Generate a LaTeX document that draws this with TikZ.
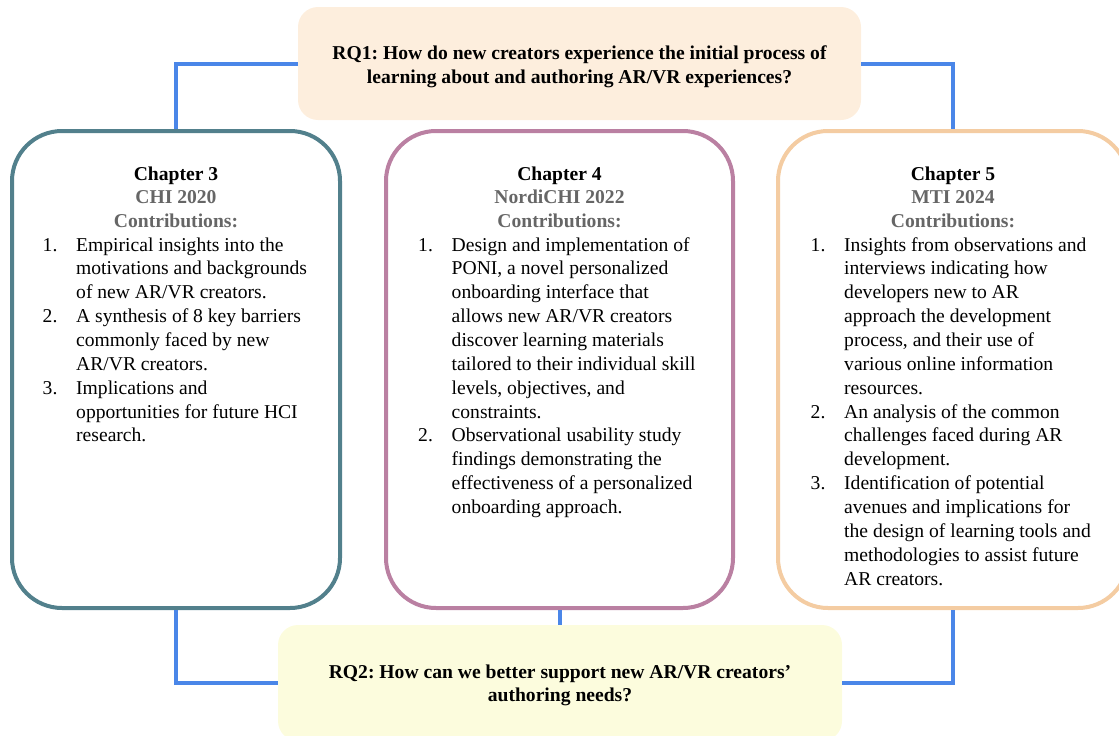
\documentclass[tikz,border=0pt]{standalone}
\usepackage{fontspec}
\setmainfont{Liberation Serif}
\usepackage{array}
\frenchspacing

\definecolor{tealc}{RGB}{82,128,140}
\definecolor{purplec}{RGB}{186,128,162}
\definecolor{orangec}{RGB}{244,204,162}
\definecolor{linkblue}{RGB}{74,134,232}
\definecolor{rqone}{RGB}{253,238,221}
\definecolor{rqtwo}{RGB}{252,252,221}
\definecolor{headgray}{RGB}{102,102,102}

\newcommand{\bodysize}{\fontsize{19.6pt}{23.86pt}\selectfont}

\begin{document}
\begin{tikzpicture}[x=1pt,y=-1pt,
  chapbox/.style={draw=#1, line width=4pt, rounded corners=50pt, fill=white, inner sep=0pt},
  rqbox/.style={fill=#1, rounded corners=20pt, inner sep=0pt, outer sep=0pt},
  link/.style={draw=linkblue, line width=4pt},
  heading/.style={anchor=base, inner sep=0pt, font=\bodysize\bfseries},
  items/.style={anchor=base west, inner sep=0pt, font=\bodysize},
]
\useasboundingbox (0,0) rectangle (1119,736);

% research question boxes
\node[rqbox=rqone, minimum width=563pt, minimum height=113pt] (rq1) at (579.5,63.5) {};
\node[rqbox=rqtwo, minimum width=564pt, minimum height=116pt] (rq2) at (560,683) {};
\node[heading] (rq1text) at (579.5,59.5) {\begin{tabular}[t]{@{}c@{}}RQ1: How do new creators experience the initial process of\\ learning about and authoring AR/VR experiences?\end{tabular}};
\node[heading] (rq2text) at (560,678) {\begin{tabular}[t]{@{}c@{}}RQ2: How can we better support new AR/VR creators’\\ authoring needs?\end{tabular}};

% chapter boxes
\node[chapbox=tealc, minimum width=328pt, minimum height=477pt] (box3) at (176,369.5) {};
\node[chapbox=purplec, minimum width=347pt, minimum height=477pt] (box4) at (559.5,369.5) {};
\node[chapbox=orangec, minimum width=350pt, minimum height=477pt] (box5) at (953,369.5) {};

% connectors
\draw[link] (rq1.west) -| (box3.north);
\draw[link] (rq1.east) -| (box5.north);
\draw[link] (box3.south) |- (rq2.west);
\draw[link] (box5.south) |- (rq2.east);
\draw[link] (box4.south) -- (box4.south |- rq2.north);

% chapter 3
\node[heading] (head3) at (176,180) {\begin{tabular}[t]{@{}c@{}}Chapter 3\\ \color{headgray}CHI 2020\\ \color{headgray}Contributions:\end{tabular}};
\node[items] (list3) at (42.5,251) {\begin{tabular}[t]{@{}p{33.5pt}@{}l@{}}
1. & Empirical insights into the\\
   & motivations and backgrounds\\
   & of new AR/VR creators.\\
2. & A synthesis of 8 key barriers\\
   & commonly faced by new\\
   & AR/VR creators.\\
3. & Implications and\\
   & opportunities for future HCI\\
   & research.
\end{tabular}};

% chapter 4
\node[heading] (head4) at (559.5,180) {\begin{tabular}[t]{@{}c@{}}Chapter 4\\ \color{headgray}NordiCHI 2022\\ \color{headgray}Contributions:\end{tabular}};
\node[items] (list4) at (418,251) {\begin{tabular}[t]{@{}p{33.5pt}@{}l@{}}
1. & Design and implementation of\\
   & PONI, a novel personalized\\
   & onboarding interface that\\
   & allows new AR/VR creators\\
   & discover learning materials\\
   & tailored to their individual skill\\
   & levels, objectives, and\\
   & constraints.\\
2. & Observational usability study\\
   & findings demonstrating the\\
   & effectiveness of a personalized\\
   & onboarding approach.
\end{tabular}};

% chapter 5
\node[heading] (head5) at (953,180) {\begin{tabular}[t]{@{}c@{}}Chapter 5\\ \color{headgray}MTI 2024\\ \color{headgray}Contributions:\end{tabular}};
\node[items] (list5) at (810.5,251) {\begin{tabular}[t]{@{}p{33.5pt}@{}l@{}}
1. & Insights from observations and\\
   & interviews indicating how\\
   & developers new to AR\\
   & approach the development\\
   & process, and their use of\\
   & various online information\\
   & resources.\\
2. & An analysis of the common\\
   & challenges faced during AR\\
   & development.\\
3. & Identification of potential\\
   & avenues and implications for\\
   & the design of learning tools and\\
   & methodologies to assist future\\
   & AR creators.
\end{tabular}};
\end{tikzpicture}
\end{document}
